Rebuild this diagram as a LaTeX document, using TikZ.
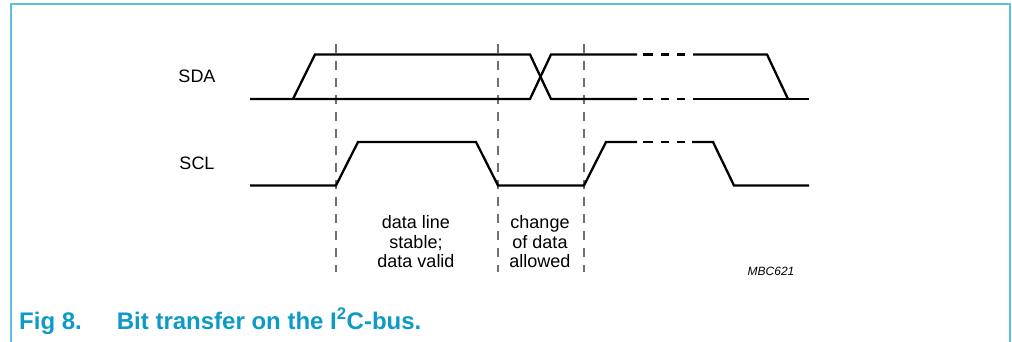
\documentclass[tikz,border=0pt]{standalone}
\usepackage{fontspec}
\setmainfont{Liberation Sans}
\definecolor{framecol}{HTML}{5BC2DC}
\definecolor{capcol}{HTML}{0E9AC6}
\definecolor{guidecol}{HTML}{707070}
\begin{document}
\begin{tikzpicture}[x=1pt,y=-1pt,
  sig/.style={line width=2.3pt,line join=miter},
  sigdash/.style={line width=2.3pt},
  guide/.style={line width=1.3pt,guidecol,dash pattern=on 9pt off 8pt},
  lbl/.style={font=\fontsize{18}{19.5}\selectfont,inner sep=0pt,align=center},
  frame/.style={line width=2pt,framecol}]
\useasboundingbox (0,0) rectangle (1012,342);
% frame
\draw[frame] (11,345) -- (11,4) -- (1010,4) -- (1010,345);
% guides
\foreach \gx/\nm in {336/ga,498/gb,584/gc}{
  \coordinate (\nm t) at (\gx,44);
  \coordinate (\nm b) at (\gx,272);
  \draw[guide] (\nm t) -- (\nm b);
}
% SDA
\draw[sig] (250,99) -- (530,99) -- (551,54.5) -- (637,54.5);
\draw[sig] (293,99) -- (315,54.5) -- (530,54.5) -- (551,99) -- (637,99);
\foreach \yy in {54.5,99}{
  \draw[sigdash] (643,\yy) -- (653,\yy);
  \draw[sigdash] (661,\yy) -- (669,\yy);
  \draw[sigdash] (677,\yy) -- (685,\yy);
}
\draw[sig] (693,54.5) -- (767,54.5) -- (788,99);
\draw[sig] (693,99) -- (809,99);
% SCL
\draw[sig] (250,185.5) -- (336,185.5) -- (358,142) -- (476,142) -- (498,185.5) -- (584,185.5) -- (606,142) -- (637,142);
\draw[sigdash] (643,142) -- (653,142);
\draw[sigdash] (661,142) -- (669,142);
\draw[sigdash] (677,142) -- (685,142);
\draw[sig] (692,142) -- (713,142) -- (734,185.5) -- (809,185.5);
% labels
\node[lbl] (sda) at (197,76) {SDA};
\node[lbl] (scl) at (197,163) {SCL};
\node[lbl] (stable) at (416,242) {data line\\stable;\\data valid};
\node[lbl] (change) at (540,242) {change\\of data\\allowed};
\node[inner sep=0pt,font=\fontsize{12}{14}\selectfont\itshape] (code) at (771,271) {MBC621};
\node[anchor=base west,inner sep=0pt,text=capcol,font=\fontsize{24}{28}\selectfont\bfseries] (cap) at (19,329) {Fig 8.\hspace{35pt}Bit transfer on the I\textsuperscript{2}C-bus.};
\end{tikzpicture}
\end{document}
